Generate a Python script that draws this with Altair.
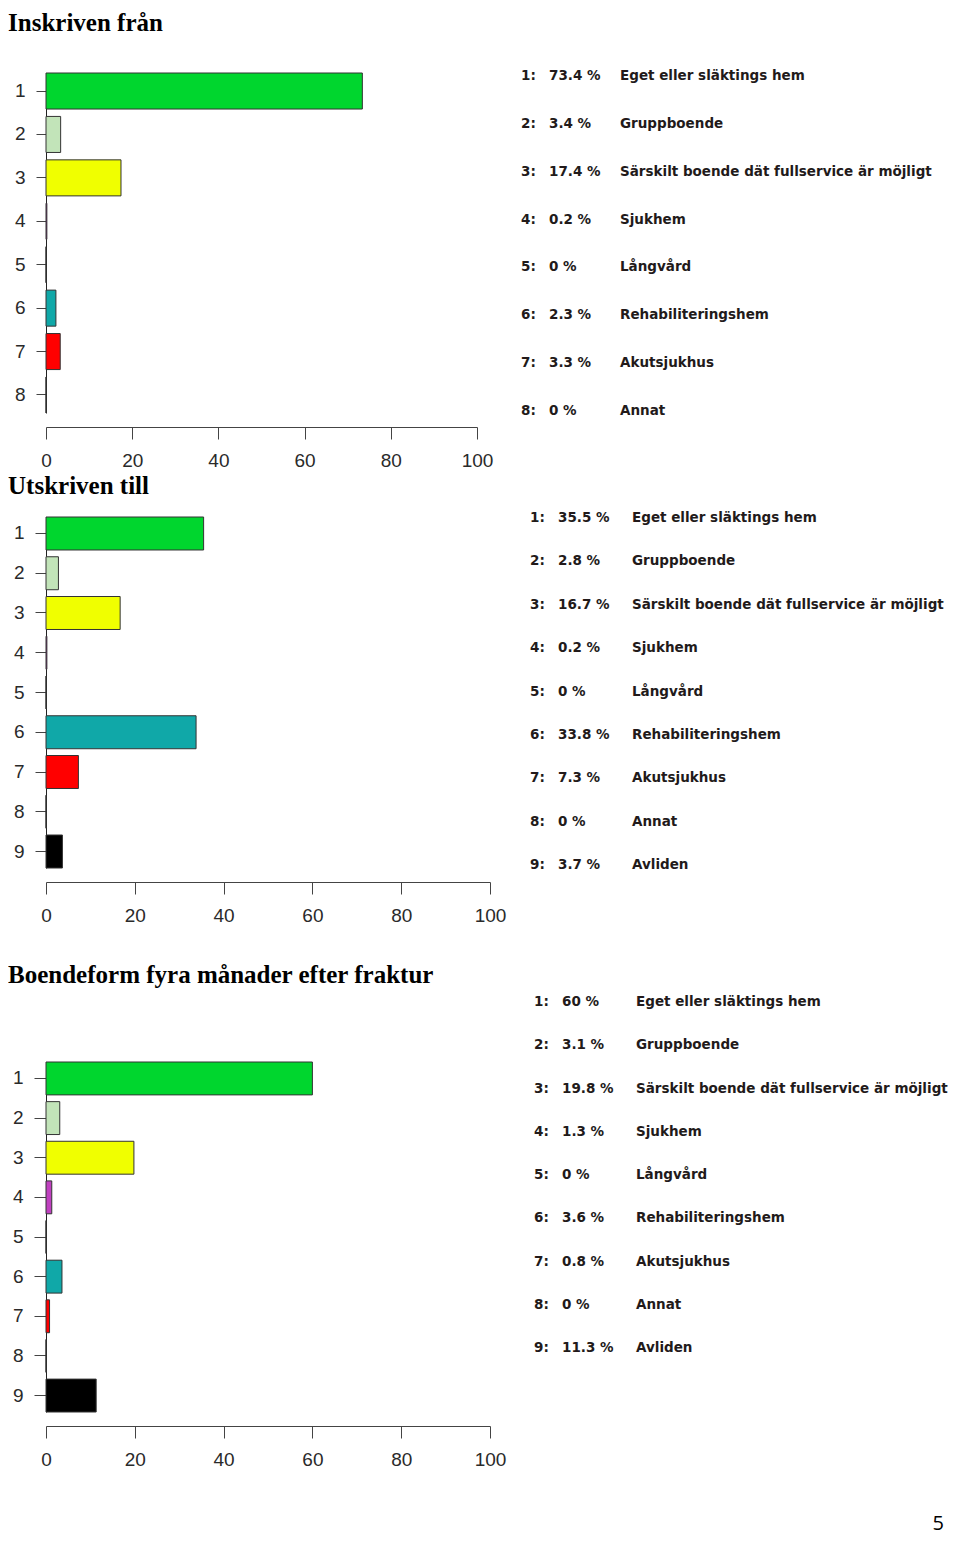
import altair as alt
import pandas as pd

# ---------------- data ----------------
labels_8 = ["Eget eller släktings hem", "Gruppboende",
            "Särskilt boende dät fullservice är möjligt", "Sjukhem",
            "Långvård", "Rehabiliteringshem", "Akutsjukhus", "Annat"]
labels_9 = labels_8 + ["Avliden"]

cats_1 = [1, 2, 3, 4, 5, 6, 7, 8]
vals_1 = [73.4, 3.4, 17.4, 0.2, 0, 2.3, 3.3, 0]

cats_2 = [1, 2, 3, 4, 5, 6, 7, 8, 9]
vals_2 = [35.5, 2.8, 16.7, 0.2, 0, 33.8, 7.3, 0, 3.7]

cats_3 = [1, 2, 3, 4, 5, 6, 7, 8, 9]
vals_3 = [60, 3.1, 19.8, 1.3, 0, 3.6, 0.8, 0, 11.3]

titles = ["Inskriven från", "Utskriven till", "Boendeform fyra månader efter fraktur"]
x_ticks = [0, 20, 40, 60, 80, 100]
color_domain = [1, 2, 3, 4, 5, 6, 7, 8, 9]
palette = ["#00d62e", "#c2e4b9", "#f0ff00", "#c040c0", "#ffffff",
           "#10a8a8", "#ff0000", "#ffffff", "#000000"]
page_number = ["5"]

AXIS_COL = "#444444"
TEXT_COL = "#221a1a"


def section(title, cats, vals, labels, width, height, text_range, text_x,
            title_offset, title_dx, tick_size, label_pad, font_size_txt,
            extra=None):
    df = pd.DataFrame({
        "cat": cats,
        "value": vals,
        "num": [f"{c}:" for c in cats],
        "pct": [f"{v:g} %" for v in vals],
        "label": labels,
    })
    base = alt.Chart(df)
    bars = base.mark_bar(stroke="#333333", strokeWidth=1).encode(
        x=alt.X("value:Q",
                scale=alt.Scale(domain=[0, 100], nice=False),
                axis=alt.Axis(values=x_ticks, title=None, grid=False,
                              offset=14, tickSize=12, labelPadding=12,
                              domainColor=AXIS_COL, tickColor=AXIS_COL,
                              labelColor="#2a2a2a", labelFont="Liberation Sans",
                              labelFontSize=19, format="d",
                              labelFlush=False)),
        y=alt.Y("cat:O",
                scale=alt.Scale(paddingInner=0.17, paddingOuter=0),
                axis=alt.Axis(title=None, tickSize=tick_size,
                              labelPadding=label_pad, domainColor="#222222",
                              tickColor=AXIS_COL, labelColor="#2a2a2a",
                              labelFont="Liberation Sans", labelFontSize=19,
                              labelAngle=0)),
        color=alt.Color("cat:O",
                        scale=alt.Scale(domain=color_domain, range=palette),
                        legend=None),
    )
    ty = alt.Y("cat:O",
               scale=alt.Scale(type="point", range=text_range, padding=0),
               axis=None)
    tkw = dict(align="left", baseline="middle", font="DejaVu Sans",
               fontWeight="bold", fontSize=font_size_txt, color=TEXT_COL)
    t1 = base.mark_text(**tkw).encode(y=ty, x=alt.value(text_x[0]), text="num:N")
    t2 = base.mark_text(**tkw).encode(y=ty, x=alt.value(text_x[1]), text="pct:N")
    t3 = base.mark_text(**tkw).encode(y=ty, x=alt.value(text_x[2]), text="label:N")
    layers = [bars, t1, t2, t3]
    if extra is not None:
        layers.append(extra)
    return alt.layer(*layers).resolve_scale(y="independent").properties(
        width=width, height=height,
        title=alt.Title(title, anchor="start", font="Liberation Serif",
                        fontSize=25, fontWeight="bold", color="#000000",
                        offset=title_offset, dx=title_dx),
    )


pn = alt.Chart(pd.DataFrame({"p": page_number})).mark_text(
    align="right", baseline="middle", font="Open Sans", fontSize=20,
    color="#000000").encode(x=alt.value(898), y=alt.value(462), text="p:N")

s1 = section(titles[0], cats_1, vals_1, labels_8, 431, 340, [3, 338],
             [475, 503, 574], 33, -6.4, 10, 11, 13.5)
s2 = section(titles[1], cats_2, vals_2, labels_9, 444, 351, [1, 348],
             [484, 512, 586], 12, -5.4, 11, 11, 13.5)
s3 = section(titles[2], cats_3, vals_3, labels_9, 444, 350, [-60, 286],
             [488, 516, 590], 7, -4.4, 12, 11, 13.5, extra=pn)

chart = alt.vconcat(
    alt.vconcat(s1, s2, spacing=4),
    s3, spacing=38,
).properties(
    padding={"top": 3, "left": 0, "right": 2, "bottom": 2}
).configure_view(stroke=None)

chart.save("out.html", embed_options={"renderer": "svg", "actions": False})
